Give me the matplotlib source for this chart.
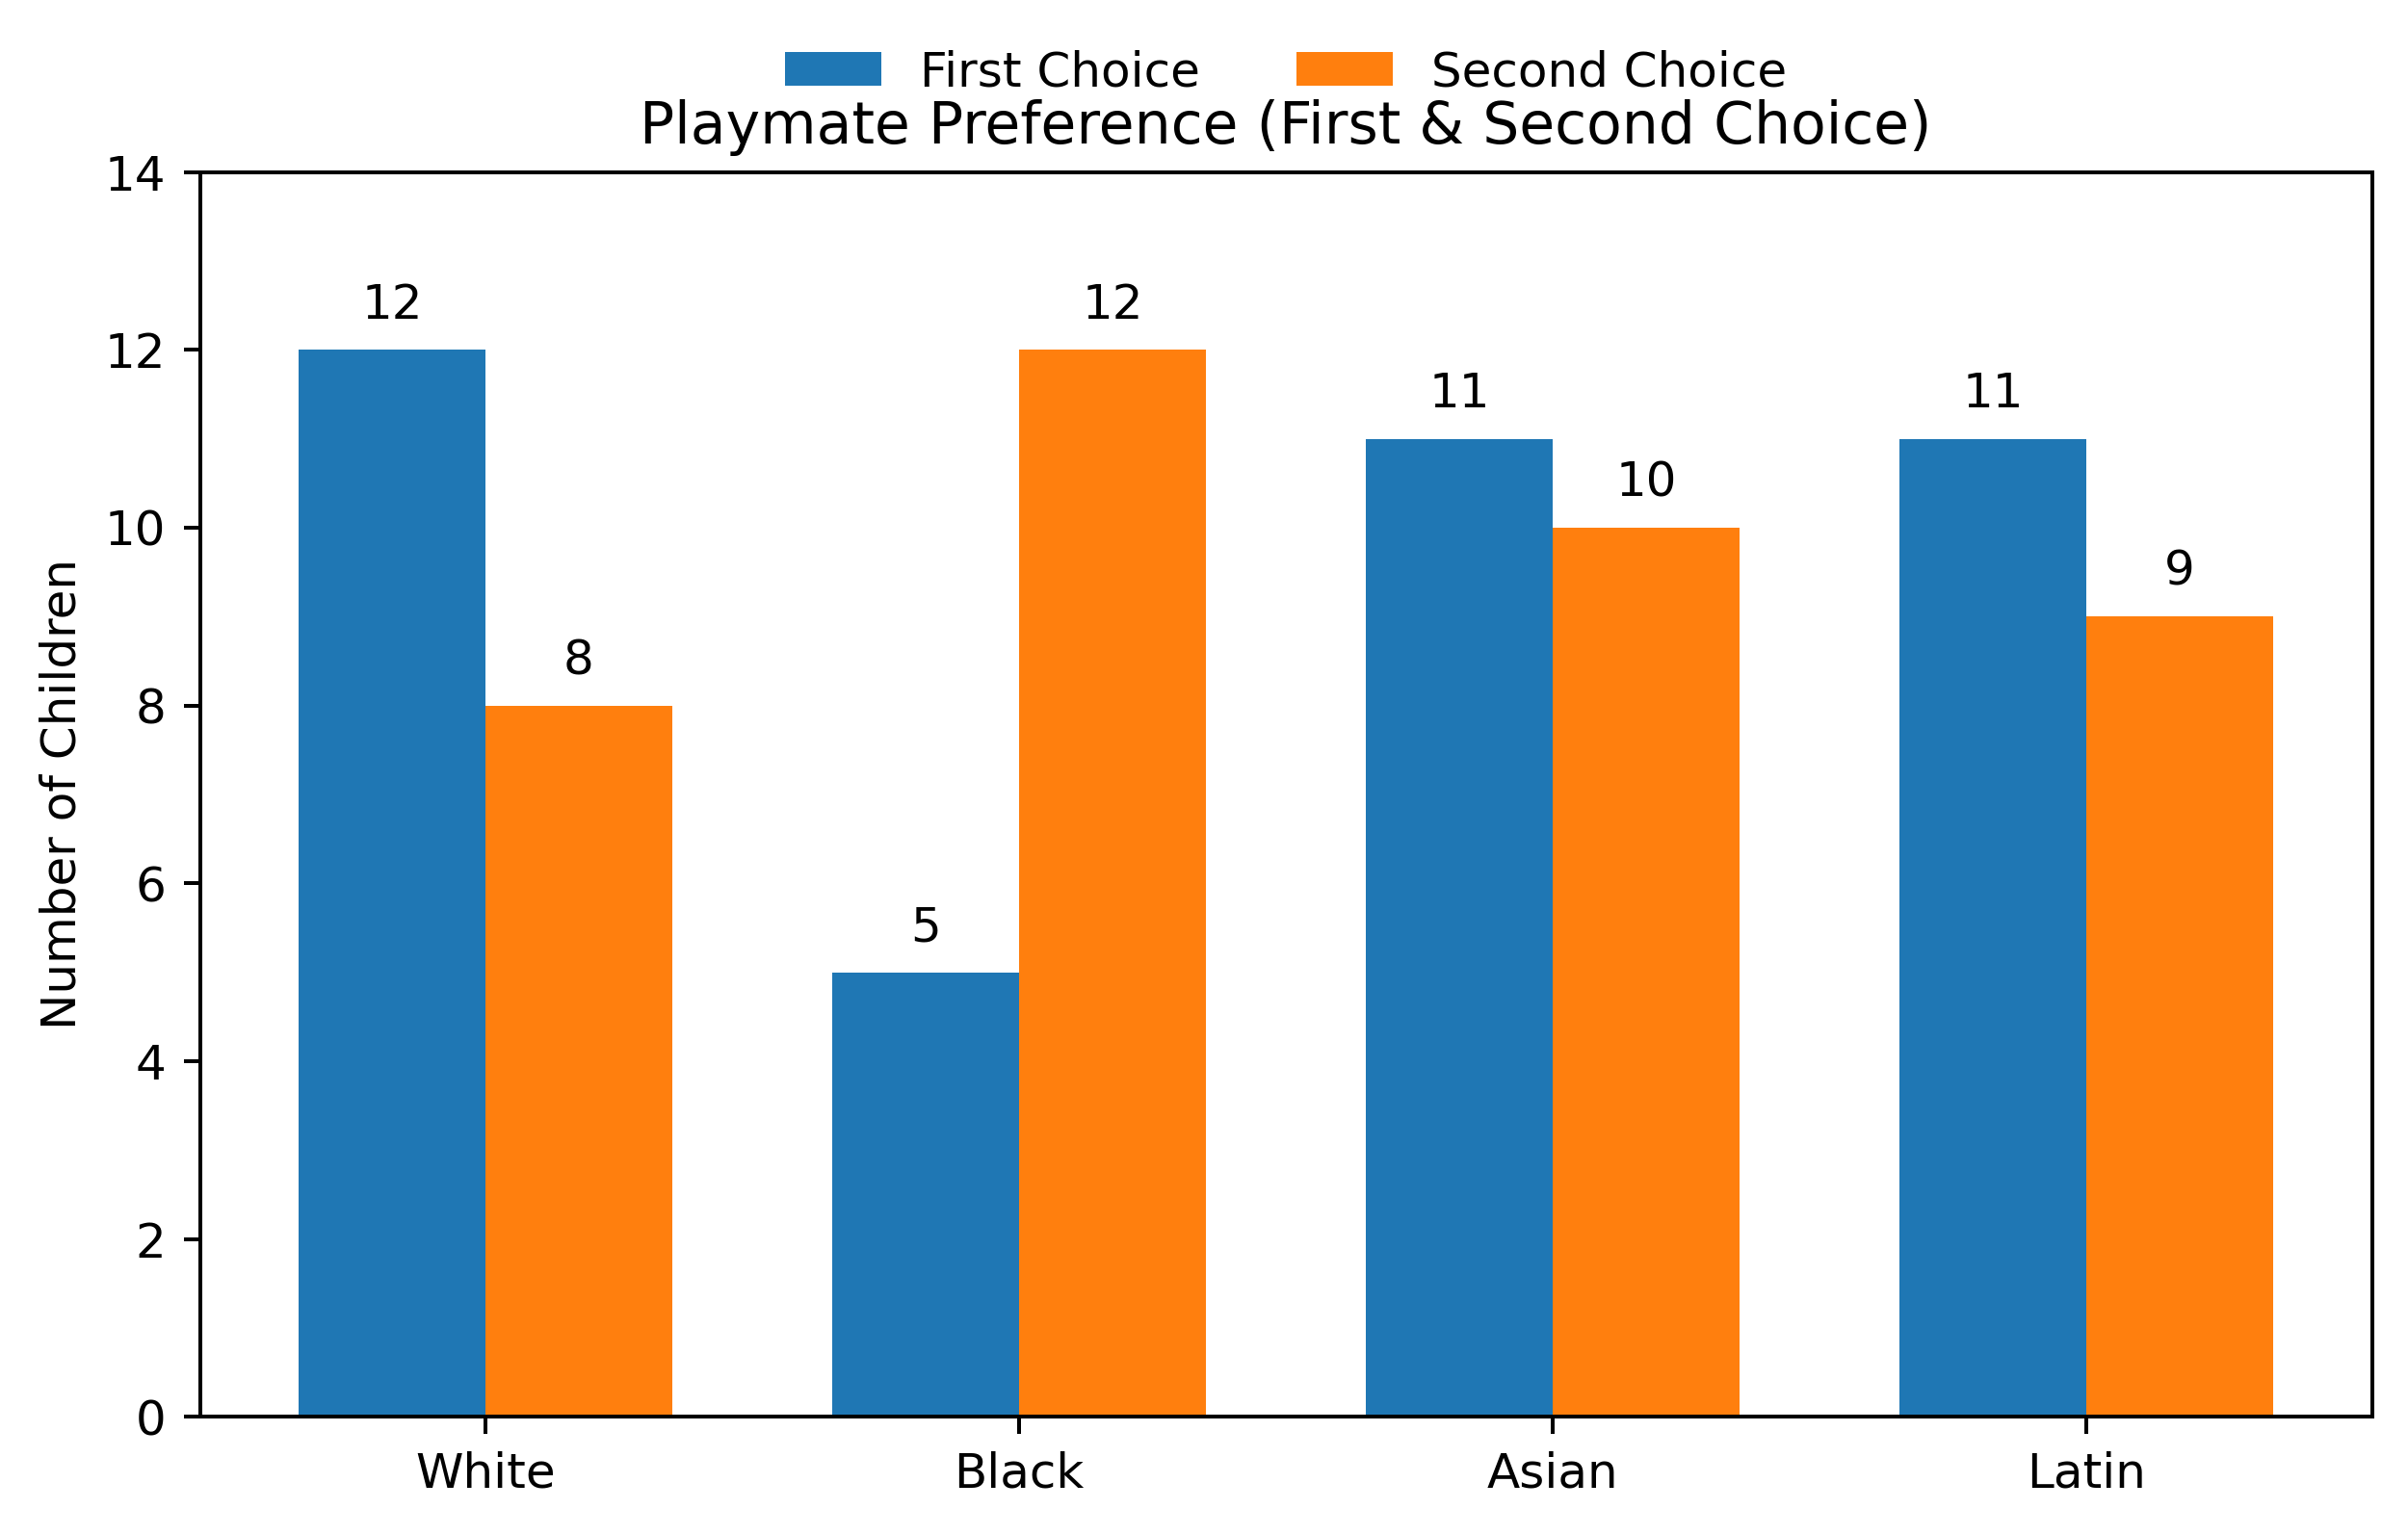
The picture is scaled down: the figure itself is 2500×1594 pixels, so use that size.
import matplotlib
matplotlib.use("Agg")
import matplotlib.pyplot as plt
import numpy as np

categories = ["White", "Black", "Asian", "Latin"]
first_choice = [12, 5, 11, 11]
second_choice = [8, 12, 10, 9]

fig, ax = plt.subplots(figsize=(2500 / 360, 1594 / 360), dpi=360)
x = np.arange(len(categories))
w = 0.35
b1 = ax.bar(x - w/2, first_choice, w, label="First Choice", color="#1f77b4")
b2 = ax.bar(x + w/2, second_choice, w, label="Second Choice", color="#ff7f0e")
for bars in (b1, b2):
    ax.bar_label(bars, padding=4.5)
ax.set_xticks(x)
ax.set_xticklabels(categories)
ax.set_ylim(0, 14)
ax.set_ylabel("Number of Children")
ax.set_title("Playmate Preference (First & Second Choice)")
ax.legend(loc="center", bbox_to_anchor=(0.5, 1.08), ncol=2, frameon=False, borderaxespad=0)
fig.subplots_adjust(left=0.083, right=0.985, top=0.888, bottom=0.077)
fig.savefig("out.png", dpi=360)
